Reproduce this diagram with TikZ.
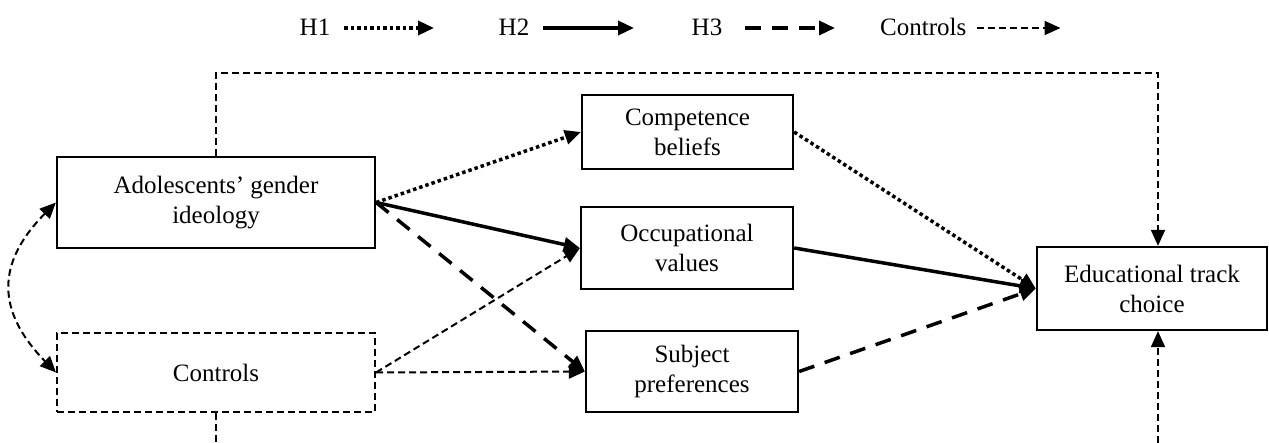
\documentclass[tikz,border=0pt]{standalone}
\usepackage{fontspec}
\setmainfont{Liberation Serif}
\usetikzlibrary{arrows.meta}
\begin{document}
\begin{tikzpicture}[x=1pt,y=-1pt,
  txt/.style={font=\fontsize{25}{30}\selectfont, align=center, inner sep=0pt},
  box/.style={txt, draw, line width=2.3pt, rectangle},
  dbox/.style={box, line width=2pt, dash pattern=on 7pt off 4pt},
  tip/.style={-{Triangle[length=16pt,width=14pt]}},
  hone/.style={line width=3.5pt, dash pattern=on 3.5pt off 3pt, tip},
  htwo/.style={line width=3.5pt, tip},
  hthree/.style={line width=3.5pt, dash pattern=on 16pt off 11pt, tip},
  ctl/.style={line width=2pt, dash pattern=on 7pt off 4pt},
  ctla/.style={ctl, tip},
]
\useasboundingbox (0,0) rectangle (1269,443);

% legend
\node[txt] (lh1) at (315,27) {H1};
\coordinate (l1a) at (344,28); \coordinate (l1b) at (434,28);
\draw[hone] (l1a) -- (l1b);
\node[txt] (lh2) at (514,27) {H2};
\coordinate (l2a) at (543,28); \coordinate (l2b) at (634,28);
\draw[htwo] (l2a) -- (l2b);
\node[txt] (lh3) at (707,27) {H3};
\coordinate (l3a) at (745,28); \coordinate (l3b) at (835,28);
\draw[hthree] (l3a) -- (l3b);
\node[txt, anchor=west] (lc) at (880,27) {Controls};
\coordinate (l4a) at ([xshift=10pt]lc.east |- l3a); \coordinate (l4b) at ([xshift=84pt]l4a);
\draw[ctla] (l4a) -- (l4b);

% boxes
\node[box, minimum width=318pt, minimum height=91pt] (ado) at (216,202.5) {Adolescents’ gender\\ideology};
\node[dbox, minimum width=318pt, minimum height=79pt] (ctrl) at (216,372.5) {Controls};
\node[box, minimum width=211pt, minimum height=74pt] (comp) at (687.5,132) {Competence\\beliefs};
\node[box, minimum width=212pt, minimum height=82pt] (occ) at (687,248) {Occupational\\values};
\node[box, minimum width=212pt, minimum height=81pt] (subj) at (692,371.5) {Subject\\preferences};
\node[box, minimum width=230pt, minimum height=83pt] (edu) at (1152,288.5) {Educational track\\choice};

% hypotheses
\draw[hone] (ado.east) -- (comp.west);
\draw[htwo] (ado.east) -- (occ.west);
\draw[hthree] (ado.east) -- (subj.west);
\draw[hone] (comp.east) -- (edu.west);
\draw[htwo] (occ.east) -- (edu.west);
\draw[hthree] (subj.east) -- (edu.west);

% controls
\draw[ctla] (ctrl.east) -- (occ.west);
\draw[ctla] (ctrl.east) -- (subj.west);
\draw[ctl, {Triangle[length=16pt,width=14pt]}-{Triangle[length=16pt,width=14pt]}]
  (ado.west) .. controls (-4,263) and (-4,311) .. (ctrl.west);
\coordinate (topR) at (1158,73);
\draw[ctla] (ado.north) |- (topR) -- (edu.north -| topR);
\coordinate (botL) at (216,443);
\draw[ctl] (ctrl.south) -- (botL);
\coordinate (botR) at (1158,443);
\draw[ctla] (botR) -- (edu.south -| botR);
\end{tikzpicture}
\end{document}
